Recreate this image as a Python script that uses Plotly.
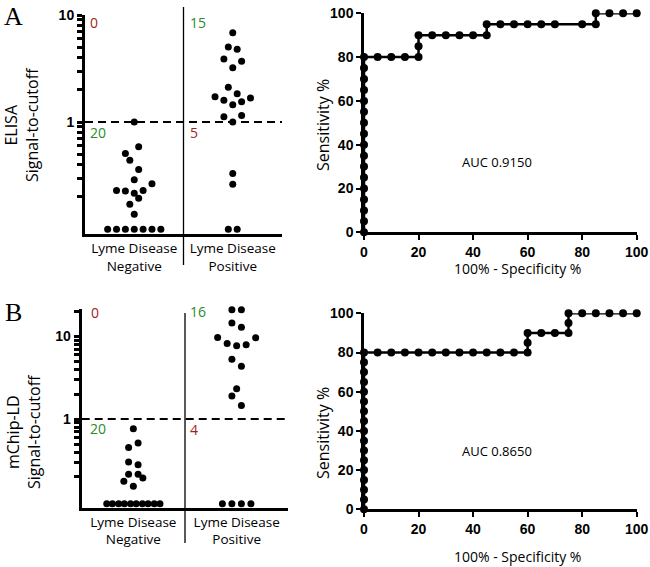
import math
import plotly.graph_objects as go

# ---- data ----
groups = ["Lyme Disease<br>Negative", "Lyme Disease<br>Positive"]
cutoff = 1.0

# panel A, ELISA signal-to-cutoff (offsets = beeswarm column, in dot widths)
elisa_neg = [1.0, 0.59, 0.51, 0.44, 0.36, 0.29, 0.265, 0.23, 0.227, 0.217, 0.23,
             0.194, 0.171, 0.138, 0.1, 0.1, 0.1, 0.1, 0.1, 0.1, 0.1]
elisa_neg_off = [0, 0.5, -1, -0.5, 0.5, 0, 2, -2, -1, 0, 1,
                 0.5, -0.5, 0, -3, -2, -1, 0, 1, 2, 3]
elisa_pos = [6.84, 5.02, 4.78, 3.88, 3.69, 3.22, 2.12, 1.84, 1.72, 1.60, 1.45,
             1.55, 1.68, 1.12, 1.15, 1.0, 0.331, 0.263, 0.1, 0.1]
elisa_pos_off = [0, -0.5, 0.5, -1, 1, 0, -0.5, 0.5, -2, -1, 0,
                 1, 2, -1, 1, 0, 0, 0, -0.5, 0.5]
elisa_counts = ["0", "20", "15", "5"]

# panel B, mChip-LD signal-to-cutoff
mchip_neg = [0.763, 0.516, 0.453, 0.304, 0.282, 0.216, 0.216, 0.195, 0.177, 0.155,
             0.095, 0.095, 0.095, 0.095, 0.095, 0.095, 0.095, 0.095, 0.095, 0.095]
mchip_neg_off = [0, 0.5, -0.5, -0.5, 0.5, -0.5, 0.5, 1, -1, 0,
                 -2.8, -2.2, -1.55, -0.95, -0.3, 0.3, 0.95, 1.55, 2.2, 2.8]
mchip_pos = [21.5, 21.0, 21.0, 22.9, 14.5, 12.9, 9.7, 8.2, 7.7, 7.9, 9.6,
             5.27, 4.34, 2.33, 1.90, 1.46, 0.095, 0.095, 0.095, 0.095]
mchip_pos_off = [-1.5, -0.5, 0.5, 1.5, -0.5, 0.5, -2, -1, 0, 1, 2,
                 -0.5, 0.5, 0, -0.5, 0.5, -1.5, -0.5, 0.5, 1.5]
mchip_counts = ["0", "20", "16", "4"]

# ROC curves
roc_a_fpr = [0, 0, 0, 0, 0, 0, 0, 0, 0, 0, 0, 0, 0, 0, 0, 0, 0,
             5, 10, 15, 20, 20, 20, 25, 30, 35, 40, 45, 45, 50, 55, 60, 65, 70,
             80, 85, 85, 90, 95, 100]
roc_a_tpr = [0, 5, 10, 15, 20, 25, 30, 35, 40, 45, 50, 55, 60, 65, 70, 75, 80,
             80, 80, 80, 80, 85, 90, 90, 90, 90, 90, 90, 95, 95, 95, 95, 95, 95,
             95, 95, 100, 100, 100, 100]
roc_b_fpr = [0, 0, 0, 0, 0, 0, 0, 0, 0, 0, 0, 0, 0, 0, 0, 0, 0,
             5, 10, 15, 20, 25, 30, 35, 40, 45, 50, 55, 60,
             60, 60, 65, 70, 75, 75, 75, 80, 85, 90, 95, 100]
roc_b_tpr = [0, 5, 10, 15, 20, 25, 30, 35, 40, 45, 50, 55, 60, 65, 70, 75, 80,
             80, 80, 80, 80, 80, 80, 80, 80, 80, 80, 80, 80,
             85, 90, 90, 90, 90, 95, 100, 100, 100, 100, 100, 100]
auc_a = "AUC 0.9150"
auc_b = "AUC 0.8650"

W, H = 650, 567
SANS = "Open Sans"
BOLD = dict(family="Liberation Sans", size=14, color="black", weight="bold")
RED = "#a3221b"
GREEN = "#2b8a2b"


def px(x):
    return x / W


def py(y):
    return 1 - y / H


fig = go.Figure()


def dots(xa, ya, vals, offs, cat, step):
    fig.add_trace(go.Scatter(
        x=[cat + o * step for o in offs], y=vals, mode="markers",
        marker=dict(color="black", size=7), cliponaxis=False,
        xaxis=xa, yaxis=ya, hoverinfo="skip"))


def cut_line(xa, ya):
    fig.add_trace(go.Scatter(
        x=[-0.5, 1.5], y=[cutoff, cutoff], mode="lines",
        line=dict(color="black", width=2, dash="8px,5px"),
        xaxis=xa, yaxis=ya, hoverinfo="skip"))


def roc(xa, ya, fpr, tpr):
    fig.add_trace(go.Scatter(
        x=fpr, y=tpr, mode="lines+markers", cliponaxis=False,
        line=dict(color="black", width=2.5),
        marker=dict(color="black", size=8),
        xaxis=xa, yaxis=ya, hoverinfo="skip"))


cut_line("x", "y")
dots("x", "y", elisa_neg, elisa_neg_off, 0, 0.09)
dots("x", "y", elisa_pos, elisa_pos_off, 1, 0.09)
roc("x2", "y2", roc_a_fpr, roc_a_tpr)

cut_line("x3", "y3")
dots("x3", "y3", mchip_neg, mchip_neg_off, 0, 0.092)
dots("x3", "y3", mchip_pos, mchip_pos_off, 1, 0.092)
roc("x4", "y4", roc_b_fpr, roc_b_tpr)

minor_a = [2, 3, 4, 5, 6, 7, 8, 9, 0.2, 0.3, 0.4, 0.5, 0.6, 0.7, 0.8, 0.9]
minor_b = minor_a + [20]


def cat_x(domain):
    return dict(domain=domain, range=[-0.5, 1.5], tickvals=[0, 1], ticktext=groups,
                showline=True, linewidth=3, linecolor="black", ticks="",
                showgrid=False, zeroline=False, automargin=False,
                tickfont=dict(family=SANS, size=13.5, color="black"))


def log_y(domain, rng, anchor, minor):
    return dict(domain=domain, type="log", range=rng, anchor=anchor,
                tickvals=[1, 10], ticktext=["1", "10"], ticks="outside",
                ticklen=5, tickwidth=3, tickcolor="black",
                minor=dict(tickvals=minor, ticks="outside", ticklen=5, tickwidth=2.5,
                           tickcolor="black"),
                showline=True, linewidth=3, linecolor="black", automargin=False,
                showgrid=False, zeroline=False, tickfont=BOLD)


def roc_axis(domain, anchor):
    return dict(domain=domain, range=[0, 100], dtick=20, anchor=anchor,
                ticks="outside", ticklen=5, tickwidth=2, tickcolor="black",
                showline=True, linewidth=2.5, linecolor="black", automargin=False,
                showgrid=False, zeroline=False, tickfont=BOLD)


fig.update_layout(
    width=W, height=H, autosize=False,
    margin=dict(l=0, r=0, t=0, b=0, pad=0, autoexpand=False),
    paper_bgcolor="white", plot_bgcolor="white", showlegend=False,
    xaxis=dict(cat_x([px(85), px(282)]), anchor="y"),
    yaxis=log_y([py(234), py(15)], [-1.045, 1.0], "x", minor_a),
    xaxis2=roc_axis([px(364), px(636.7)], "y2"),
    yaxis2=roc_axis([py(232.3), py(13.3)], "x2"),
    xaxis3=dict(cat_x([px(81.7), px(288.3)]), anchor="y3"),
    yaxis3=log_y([py(507.7), py(309)], [-1.07, 1.33], "x3", minor_b),
    xaxis4=roc_axis([px(364), px(636.7)], "y4"),
    yaxis4=roc_axis([py(509.3), py(313.3)], "x4"),
)

# group divider lines
fig.add_shape(type="line", xref="x", yref="paper", x0=0.5, x1=0.5,
              y0=py(265), y1=py(7), line=dict(color="black", width=1.3))
fig.add_shape(type="line", xref="x3", yref="paper", x0=0.5, x1=0.5,
              y0=py(543), y1=py(313), line=dict(color="black", width=1.3))


def note(text, x, y, size=13, color="black", family=SANS, angle=0, xanchor="center"):
    fig.add_annotation(text=text, x=px(x), y=py(y), xref="paper", yref="paper",
                       showarrow=False, textangle=angle, xanchor=xanchor,
                       yanchor="middle", font=dict(family=family, size=size, color=color))


# counts above / below cutoff
for (c, x, y, col) in zip(elisa_counts, [88, 88, 188, 188], [22, 132, 22, 133],
                          [RED, GREEN, GREEN, RED]):
    note(c, x, y, size=14, color=col, xanchor="left")
for (c, x, y, col) in zip(mchip_counts, [89, 88, 188, 188], [312, 428, 311, 429],
                          [RED, GREEN, GREEN, RED]):
    note(c, x, y, size=14, color=col, xanchor="left")

# panel letters
note("A", 13, 16, size=26, family="Liberation Serif")
note("B", 13, 312, size=26, family="Liberation Serif")

# axis titles
note("ELISA<br>Signal-to-cutoff", 22, 125, size=16, angle=-90)
note("mChip-LD<br>Signal-to-cutoff", 23, 432, size=16, angle=-90)
note("Sensitivity %", 323, 125, size=16, angle=-90)
note("Sensitivity %", 323, 433, size=16, angle=-90)
note("100% - Specificity %", 517, 268, size=14)
note("100% - Specificity %", 517, 556, size=14)
note(auc_a, 497, 162, size=13)
note(auc_b, 497, 451, size=13)

# drop the default page margin so the figure sits at the window's corner
fig.write_html("out.html", config={"displayModeBar": False},
               post_script="document.body.style.margin='0';"
                           "document.documentElement.style.overflow='hidden';")
